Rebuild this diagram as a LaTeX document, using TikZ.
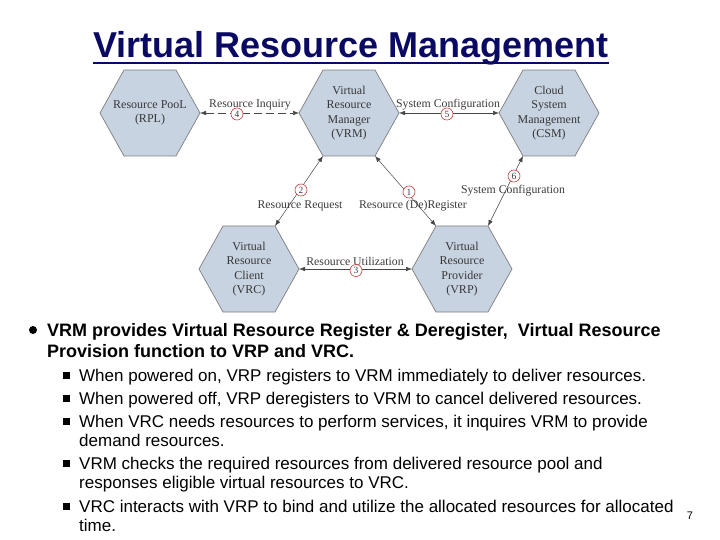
\documentclass[tikz,border=0pt]{standalone}
\usepackage{fontspec}
\setmainfont{Liberation Serif}
\newfontfamily\arial{Liberation Sans}
\usetikzlibrary{arrows.meta,calc}
\definecolor{hexfill}{RGB}{200,211,226}
\definecolor{hexedge}{RGB}{125,125,125}
\definecolor{hextext}{RGB}{55,55,55}
\definecolor{labcol}{RGB}{60,60,60}
\definecolor{conncol}{RGB}{70,70,70}
\definecolor{numred}{RGB}{210,60,60}
\definecolor{titlecol}{RGB}{10,10,100}
\newcommand\hexat[1]{\draw[hexbox] (#1) ++(-50,0) -- ++(24,-43) -- ++(52,0) -- ++(24,43) -- ++(-24,43) -- ++(-52,0) -- cycle;}
\begin{document}
\begin{tikzpicture}[x=1pt,y=-1pt,
  hexbox/.style={fill=hexfill,draw=hexedge,line width=0.7pt},
  hexlabel/.style={align=center,font=\fontsize{12}{14.5}\selectfont,text=hextext,inner sep=0pt},
  conn/.style={draw=conncol,line width=0.5pt,{Latex[length=6pt,width=4.5pt]}-{Latex[length=6pt,width=4.5pt]}},
  lab/.style={font=\fontsize{11.8}{13}\selectfont,text=labcol,inner sep=0pt},
  num/.style={circle,draw=numred,fill=white,line width=0.6pt,minimum size=12pt,inner sep=0pt,font=\fontsize{9.5}{9.5}\selectfont,text=labcol},
  lvlone/.style={anchor=base west,inner sep=0pt,font=\arial\bfseries\fontsize{18}{21}\selectfont},
  lvltwo/.style={anchor=base west,inner sep=0pt,font=\arial\fontsize{17}{20}\selectfont},
  sqbullet/.style={fill=black,minimum size=7pt,inner sep=0pt},
  dotbullet/.style={circle,fill=black,minimum size=8pt,inner sep=0pt}
]
\fill[white] (0,0) rectangle (720,540);
\useasboundingbox (0,0) rectangle (720,540);

% title
\node[anchor=base,inner sep=0pt,text=titlecol,font=\arial\bfseries\fontsize{36}{40}\selectfont] (title) at (351,58) {Virtual Resource Management};
\draw[titlecol,line width=2pt] ($(title.base west)+(0,5)$) -- ($(title.base east)+(0,5)$);

% hexagon centres
\coordinate (crpl) at (150,113);
\coordinate (cvrm) at (349,113);
\coordinate (ccsm) at (549,113);
\coordinate (cvrc) at (249,269);
\coordinate (cvrp) at (462,269);
\hexat{crpl}\hexat{cvrm}\hexat{ccsm}\hexat{cvrc}\hexat{cvrp}

\node[hexlabel] (rpl) at (crpl) {Resource PooL\\(RPL)};
\node[hexlabel] (vrm) at (cvrm) {Virtual\\Resource\\Manager\\(VRM)};
\node[hexlabel] (csm) at (ccsm) {Cloud\\System\\Management\\(CSM)};
\node[hexlabel] (vrc) at (cvrc) {Virtual\\Resource\\Client\\(VRC)};
\node[hexlabel] (vrp) at (cvrp) {Virtual\\Resource\\Provider\\(VRP)};

% corners
\coordinate (rplR) at ($(crpl)+(50,0)$);
\coordinate (vrmL) at ($(cvrm)+(-50,0)$);
\coordinate (vrmR) at ($(cvrm)+(50,0)$);
\coordinate (csmL) at ($(ccsm)+(-50,0)$);
\coordinate (vrcR) at ($(cvrc)+(50,0)$);
\coordinate (vrpL) at ($(cvrp)+(-50,0)$);
\coordinate (vrmBL) at ($(cvrm)+(-26,43)$);
\coordinate (vrmBR) at ($(cvrm)+(26,43)$);
\coordinate (csmBL) at ($(ccsm)+(-26,43)$);
\coordinate (vrcTR) at ($(cvrc)+(26,-43)$);
\coordinate (vrpTL) at ($(cvrp)+(-26,-43)$);
\coordinate (vrpTR) at ($(cvrp)+(26,-43)$);

% connectors
\draw[conn,dash pattern=on 8pt off 4pt] (rplR) -- (vrmL);
\draw[conn] (vrmR) -- (csmL);
\draw[conn] (vrcR) -- (vrpL);
\draw[conn] (vrmBL) -- (vrcTR);
\draw[conn] (vrmBR) -- (vrpTL);
\draw[conn] (csmBL) -- (vrpTR);

% labels
\node[lab] (l4) at (250,105) {Resource Inquiry};
\node[lab] (l5) at (448,105) {System Configuration};
\node[lab] (l3) at (355,261) {Resource Utilization};
\node[lab] (l2) at (300,206) {Resource Request};
\node[lab] (l1) at (413,206) {Resource (De)Register};
\node[lab] (l6) at (513,191) {System Configuration};

\node[num] (n4) at (237,114) {4};
\node[num] (n5) at (447,114) {5};
\node[num] (n3) at (356,270.5) {3};
\node[num] (n2) at (301,190) {2};
\node[num] (n1) at (409,192) {1};
\node[num] (n6) at (514,176) {6};

% bullets
\node[dotbullet] (b0) at (33,330) {};
\node[lvlone] (t0a) at (47,336) {VRM provides Virtual Resource Register \& Deregister,\ \ Virtual Resource};
\node[lvlone] (t0b) at (47,357) {Provision function to VRP and VRC.};

\node[sqbullet] (b1) at (66,375) {};
\node[sqbullet] (b2) at (66,398) {};
\node[sqbullet] (b3) at (66,421) {};
\node[sqbullet] (b4) at (66,463) {};
\node[sqbullet] (b5) at (66,506) {};
\node[lvltwo] (t1) at (79,381) {When powered on, VRP registers to VRM immediately to deliver resources.};
\node[lvltwo] (t2) at (79,404) {When powered off, VRP deregisters to VRM to cancel delivered resources.};
\node[lvltwo] (t3a) at (79,427) {When VRC needs resources to perform services, it inquires VRM to provide};
\node[lvltwo] (t3b) at (79,446) {demand resources.};
\node[lvltwo] (t4a) at (79,469) {VRM checks the required resources from delivered resource pool and};
\node[lvltwo] (t4b) at (79,488) {responses eligible virtual resources to VRC.};
\node[lvltwo] (t5a) at (79,512) {VRC interacts with VRP to bind and utilize the allocated resources for allocated};
\node[lvltwo] (t5b) at (79,531) {time.};

\node[anchor=base,inner sep=0pt,font=\arial\fontsize{11}{12}\selectfont] (pg) at (690,519) {7};
\end{tikzpicture}
\end{document}
